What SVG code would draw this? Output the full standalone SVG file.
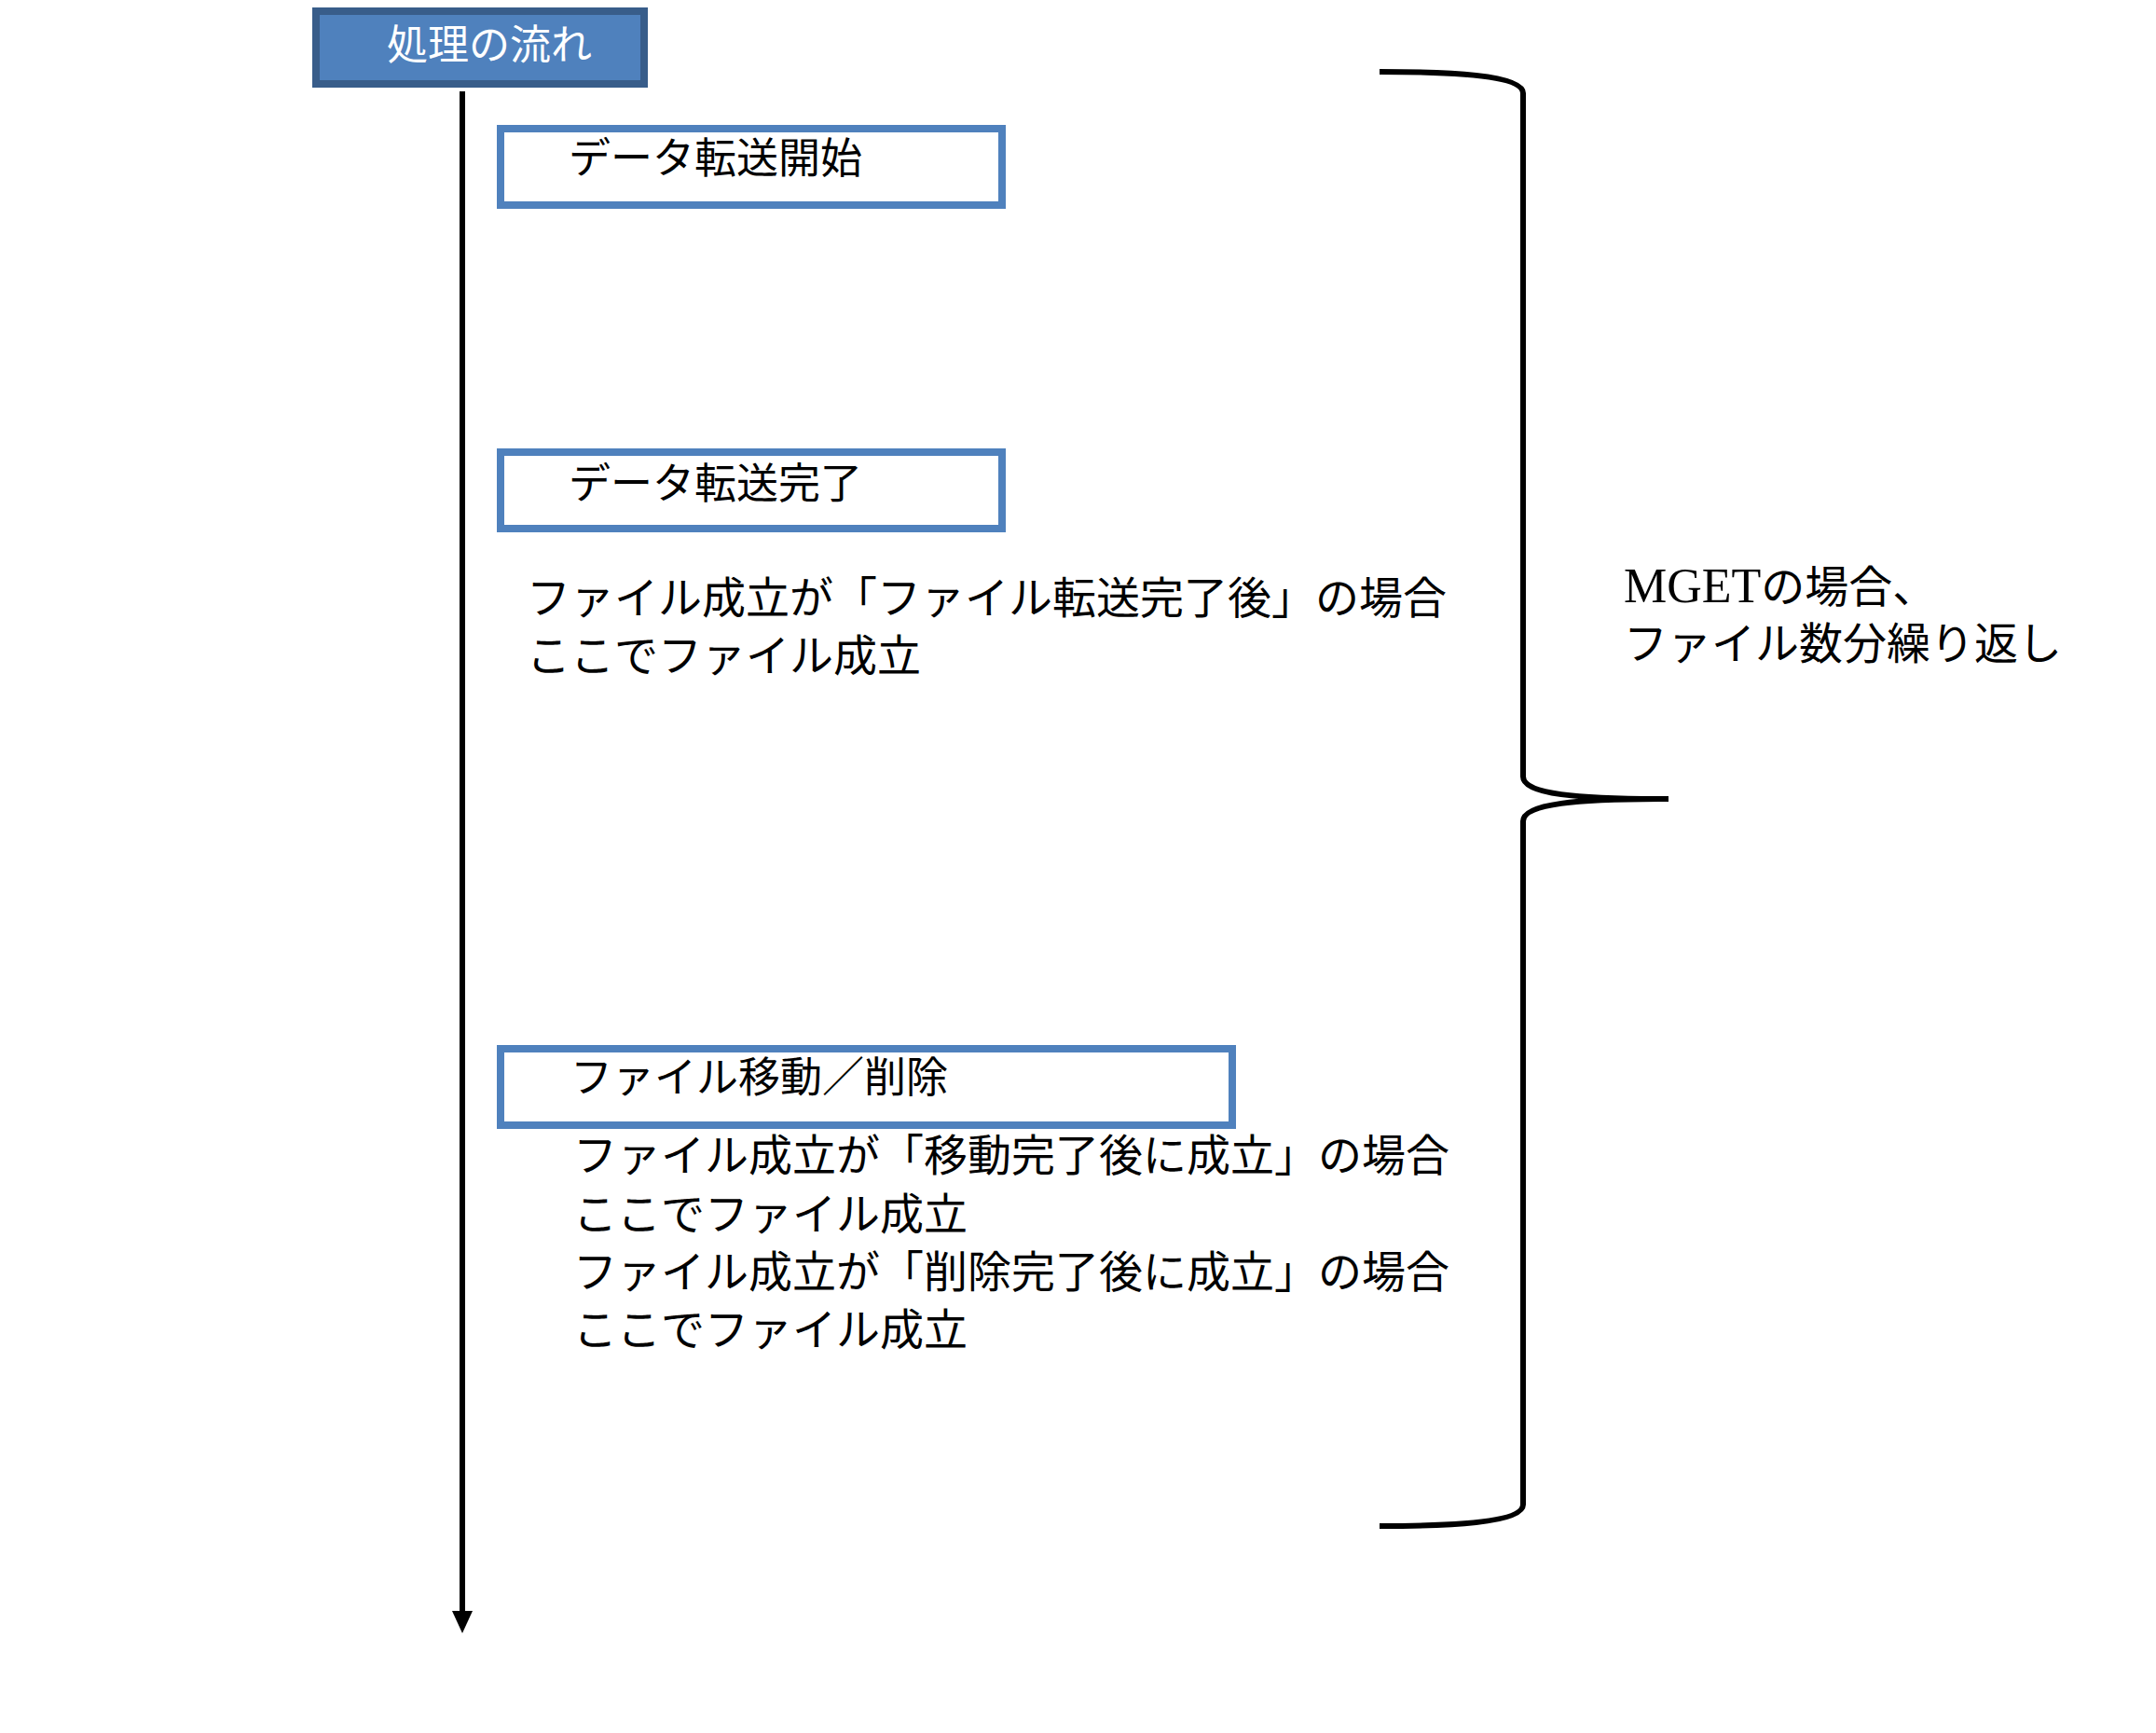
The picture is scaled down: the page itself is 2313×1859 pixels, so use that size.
<svg xmlns="http://www.w3.org/2000/svg" width="2313" height="1859" viewBox="0 0 2313 1859">
<style>
text{font-family:"Liberation Serif","Noto Sans CJK JP",serif;font-size:47px;fill:#000}
.box{fill:#fff;stroke:#4f81bd;stroke-width:8}
.conn{fill:none;stroke:#000;stroke-width:6}
</style>
<rect width="2313" height="1859" fill="#fff"/>
<g id="connectors">
<line class="conn" x1="496" y1="98" x2="496" y2="1728"/>
<path d="M485,1728 L507,1728 L496,1752Z" fill="#000"/>
<path class="conn" d="M1480,77 C1551,77 1634,80 1634,100 L1634,833 C1634,852 1691,857 1790,857 C1691,857 1634,862 1634,881 L1634,1614 C1634,1634 1551,1637 1480,1637"/>
</g>
<g id="title"><rect x="339" y="12" width="352" height="78" fill="#4f81bd" stroke="#385d8a" stroke-width="8"/><text x="415" y="64" style="fill:#fff;font-size:44px">処理の流れ</text></g>
<g id="n1"><rect class="box" x="537" y="138" width="538" height="82"/><text x="610" y="186" style="font-size:45px">データ転送開始</text></g>
<g id="n2"><rect class="box" x="537" y="485" width="538" height="82"/><text x="610" y="535" style="font-size:45px">データ転送完了</text></g>
<g id="t1"><text x="565" y="658">ファイル成立が「ファイル転送完了後」の場合</text><text x="565" y="720">ここでファイル成立</text></g>
<g id="n3"><rect class="box" x="537" y="1125" width="785" height="82"/><text x="612" y="1172" style="font-size:45px">ファイル移動／削除</text></g>
<g id="t2"><text x="615" y="1256">ファイル成立が「移動完了後に成立」の場合</text><text x="615" y="1319">ここでファイル成立</text><text x="615" y="1381">ファイル成立が「削除完了後に成立」の場合</text><text x="615" y="1443">ここでファイル成立</text></g>
<g id="t3"><text x="1742" y="646"><tspan style="font-size:52px">MGET</tspan>の場合、</text><text x="1742" y="707">ファイル数分繰り返し</text></g>
</svg>
